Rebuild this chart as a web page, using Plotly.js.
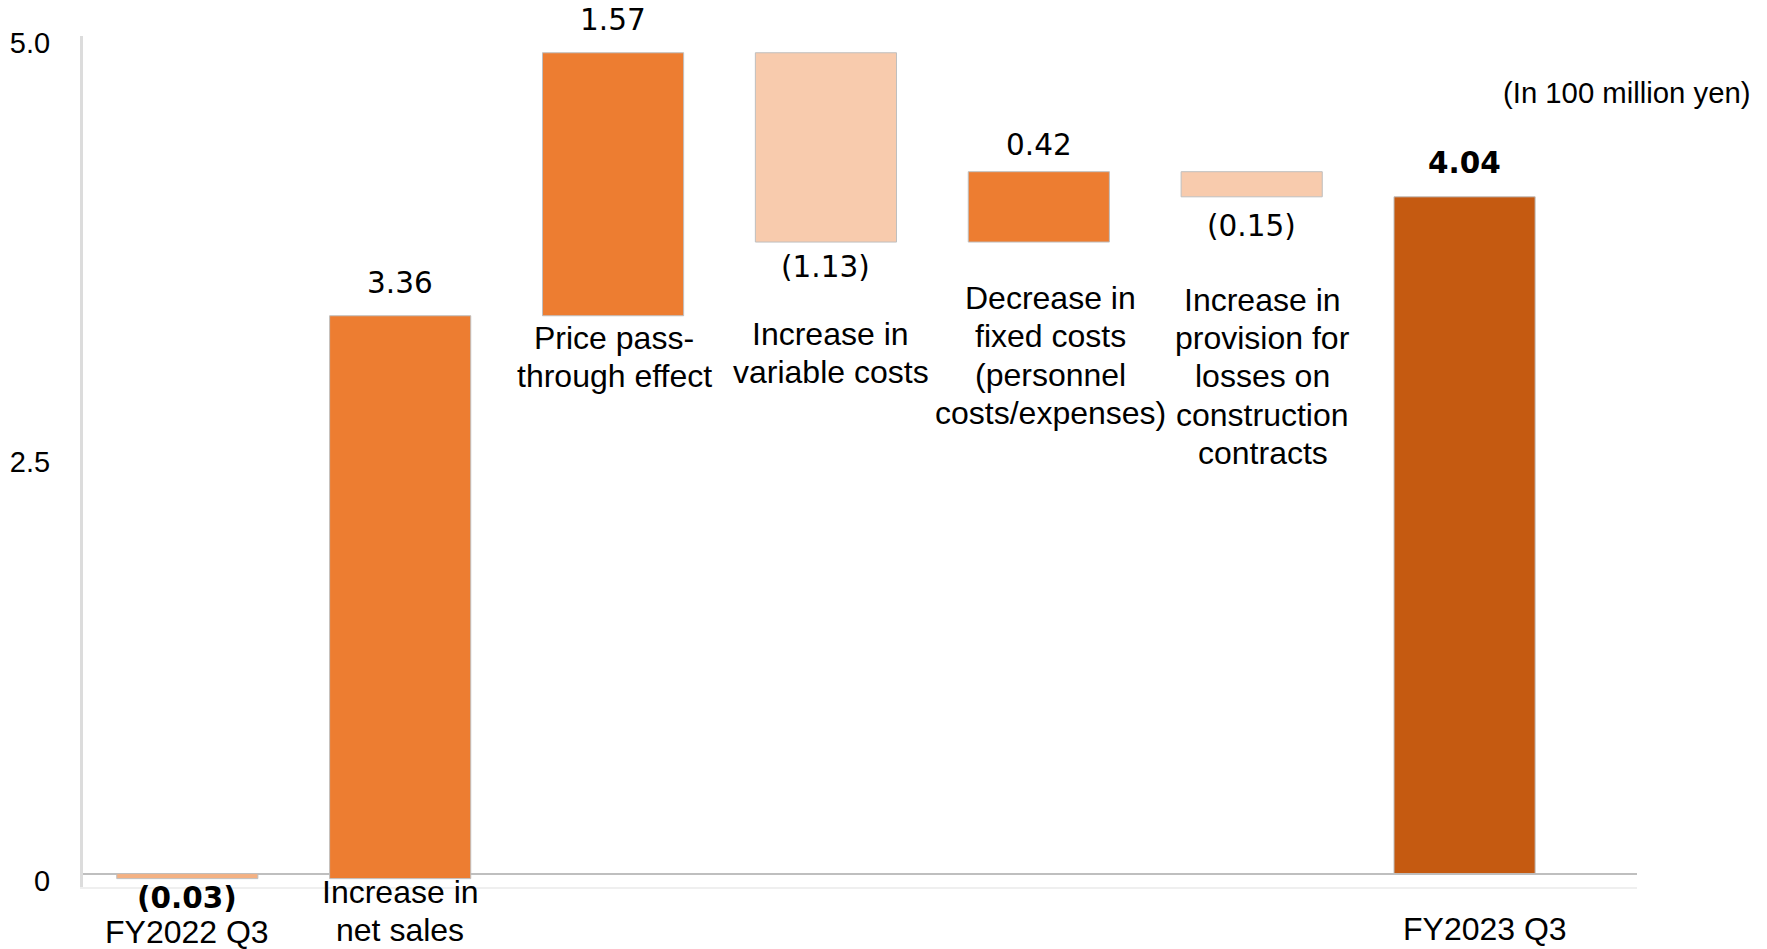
<!DOCTYPE html>
<html><head><meta charset="utf-8">
<script src="https://cdn.plot.ly/plotly-3.0.1.min.js"></script>
<style>html,body{margin:0;padding:0;background:#fff;} #chart{width:1767px;height:949px;}</style>
</head><body><div id="chart"></div>
<script>
// ---- data ----
const categories = ["FY2022 Q3", "Increase in<br>net sales", "Price pass-<br>through effect", "Increase in<br>variable costs", "Decrease in<br>fixed costs<br>(personnel<br>costs/expenses)", "Increase in<br>provision for<br>losses on<br>construction<br>contracts", "FY2023 Q3"];
const measures = ["absolute", "relative", "relative", "relative", "relative", "relative", "total"];
const values = [-0.03, 3.36, 1.57, -1.13, 0.42, -0.15, 4.04];
const valueLabels = ["(0.03)", "3.36", "1.57", "(1.13)", "0.42", "(0.15)", "4.04"];
const yTickVals = [0, 2.5, 5.0];
const yTickText = ["0", "2.5", "5.0"];
const unitNote = "(In 100 million yen)";

// ---- style ----
const barColors = ["#F4B183", "#ED7D31", "#ED7D31", "#F8CBAD", "#ED7D31", "#F8CBAD", "#C55A11"];
const boldValue = [true, false, false, false, false, false, true];
const valueOffset = [19, 33, 33, 25, 27, 29, 34];   // px from bar edge to label centre
const catDrop = [53, 13, 22, 92, 56, 103, 55];       // px from bar bottom to first line centre
const catShiftX = [0, 0, 1, 5, 12, 11, 20];          // px horizontal nudge
const catLineGap = 38.3;

// ---- compute waterfall bases ----
const xs = categories.map((_, i) => i);
const bases = [], heights = [];
let running = 0;
values.forEach((v, i) => {
  if (measures[i] === "absolute") { bases.push(0); heights.push(v); running = v; }
  else if (measures[i] === "total") { bases.push(0); heights.push(running); }
  else { bases.push(running); heights.push(v); running += v; }
});

const trace = {
  type: "bar", x: xs, y: heights, base: bases,
  width: 0.663,
  marker: { color: barColors, line: { color: "#BFBFBF", width: 1 } },
  hoverinfo: "skip", showlegend: false
};

const annotations = [];
xs.forEach((x, i) => {
  const lo = Math.min(bases[i], bases[i] + heights[i]);
  const hi = Math.max(bases[i], bases[i] + heights[i]);
  const neg = heights[i] < 0;
  annotations.push({
    xref: "x", yref: "y", x: x, y: neg ? lo : hi,
    yanchor: "middle", yshift: neg ? -valueOffset[i] : valueOffset[i],
    text: boldValue[i] ? "<b>" + valueLabels[i] + "</b>" : valueLabels[i],
    showarrow: false, borderpad: 0,
    font: { family: "DejaVu Sans", size: 29.5, color: "#000" }
  });
  categories[i].split("<br>").forEach((line, k) => {
    annotations.push({
      xref: "x", yref: "y", x: x, y: lo,
      yanchor: "middle", yshift: -(catDrop[i] + k * catLineGap), xshift: catShiftX[i],
      text: line, showarrow: false, borderpad: 0,
      font: { family: "Liberation Sans, Arial", size: 32, color: "#000" }
    });
  });
});
annotations.push({
  xref: "paper", yref: "paper", x: 1.0746, y: 0.934, xanchor: "right", yanchor: "middle",
  text: unitNote, showarrow: false,
  font: { family: "Liberation Sans, Arial", size: 29.3, color: "#000" }
});

const layout = {
  width: 1767, height: 949,
  margin: { l: 83, r: 130, t: 36, b: 62 },
  paper_bgcolor: "#fff", plot_bgcolor: "#fff",
  xaxis: { range: [-0.49, 6.81], showticklabels: false, showgrid: false, zeroline: false,
           showline: true, linecolor: "#EFEFEF", linewidth: 2, fixedrange: true },
  yaxis: { range: [-0.08, 5.0], tickvals: yTickVals, ticktext: yTickText, showgrid: false,
           zeroline: true, zerolinecolor: "#BFBFBF", zerolinewidth: 2,
           showline: true, linecolor: "#DCDCDC", linewidth: 3,
           ticks: "", ticklabelstandoff: 24, ticklabelshift: 7,
           tickfont: { family: "Liberation Sans, Arial", size: 29, color: "#000" } },
  annotations: annotations
};

Plotly.newPlot("chart", [trace], layout, { displayModeBar: false, staticPlot: true });
</script>
</body></html>
